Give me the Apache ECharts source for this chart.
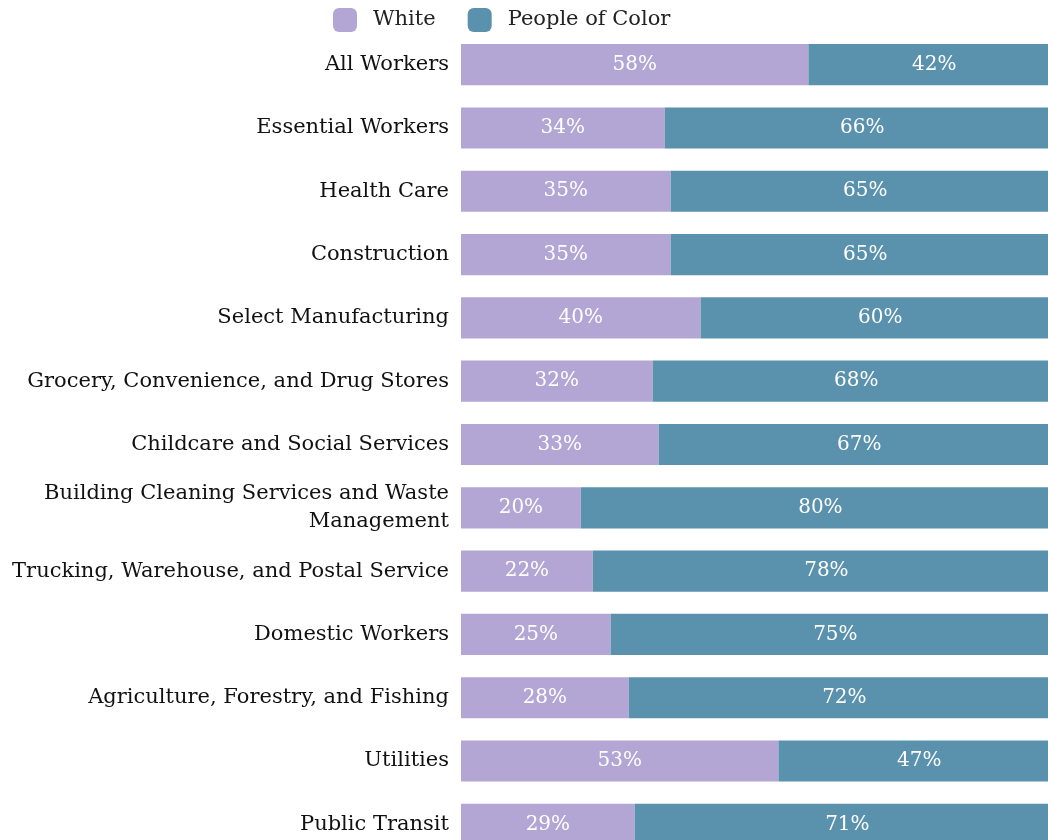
<!DOCTYPE html>
<html><head><meta charset="utf-8">
<script src="https://cdn.jsdelivr.net/npm/echarts@6/dist/echarts.min.js"></script>
<style>html,body{margin:0;padding:0;background:#fff;overflow:hidden;width:1048px;height:840px}#c{width:1060px;height:856px}</style>
</head><body><div id="c"></div>
<script>
const categories = ["All Workers","Essential Workers","Health Care","Construction","Select Manufacturing","Grocery, Convenience, and Drug Stores","Childcare and Social Services","Building Cleaning Services and Waste\nManagement","Trucking, Warehouse, and Postal Service","Domestic Workers","Agriculture, Forestry, and Fishing","Utilities","Public Transit"];
const white = [58,34,35,35,40,32,33,20,22,25,28,53,29];
const poc = [42,66,65,65,60,68,67,80,78,75,72,47,71];
const FONT = "DejaVu Serif";
const chart = echarts.init(document.getElementById('c'));
chart.setOption({
  animation:false,
  textStyle:{fontFamily:FONT},
  legend:{top:3,left:328,itemWidth:24,itemHeight:24,itemGap:32,icon:'roundRect',
    textStyle:{fontFamily:FONT,fontSize:21,color:'#222',padding:[0,0,0,11]},data:['White','People of Color']},
  grid:{left:461,right:0,top:33,bottom:0,containLabel:false},
  xAxis:{type:'value',min:0,max:100,show:false},
  yAxis:{type:'category',inverse:true,data:categories,axisLine:{show:false},axisTick:{show:false},
    axisLabel:{fontFamily:FONT,fontSize:21,color:'#111',margin:12,lineHeight:28}},
  series:[
    {name:'White',type:'bar',stack:'a',data:white,barCategoryGap:'35%',itemStyle:{color:'#b3a6d4'},
     label:{show:true,position:'inside',formatter:'{c}%',color:'#fff',fontFamily:FONT,fontSize:20}},
    {name:'People of Color',type:'bar',stack:'a',data:poc,itemStyle:{color:'#5a92ae'},
     label:{show:true,position:'inside',formatter:'{c}%',color:'#fff',fontFamily:FONT,fontSize:20}}
  ]
});
</script></body></html>
